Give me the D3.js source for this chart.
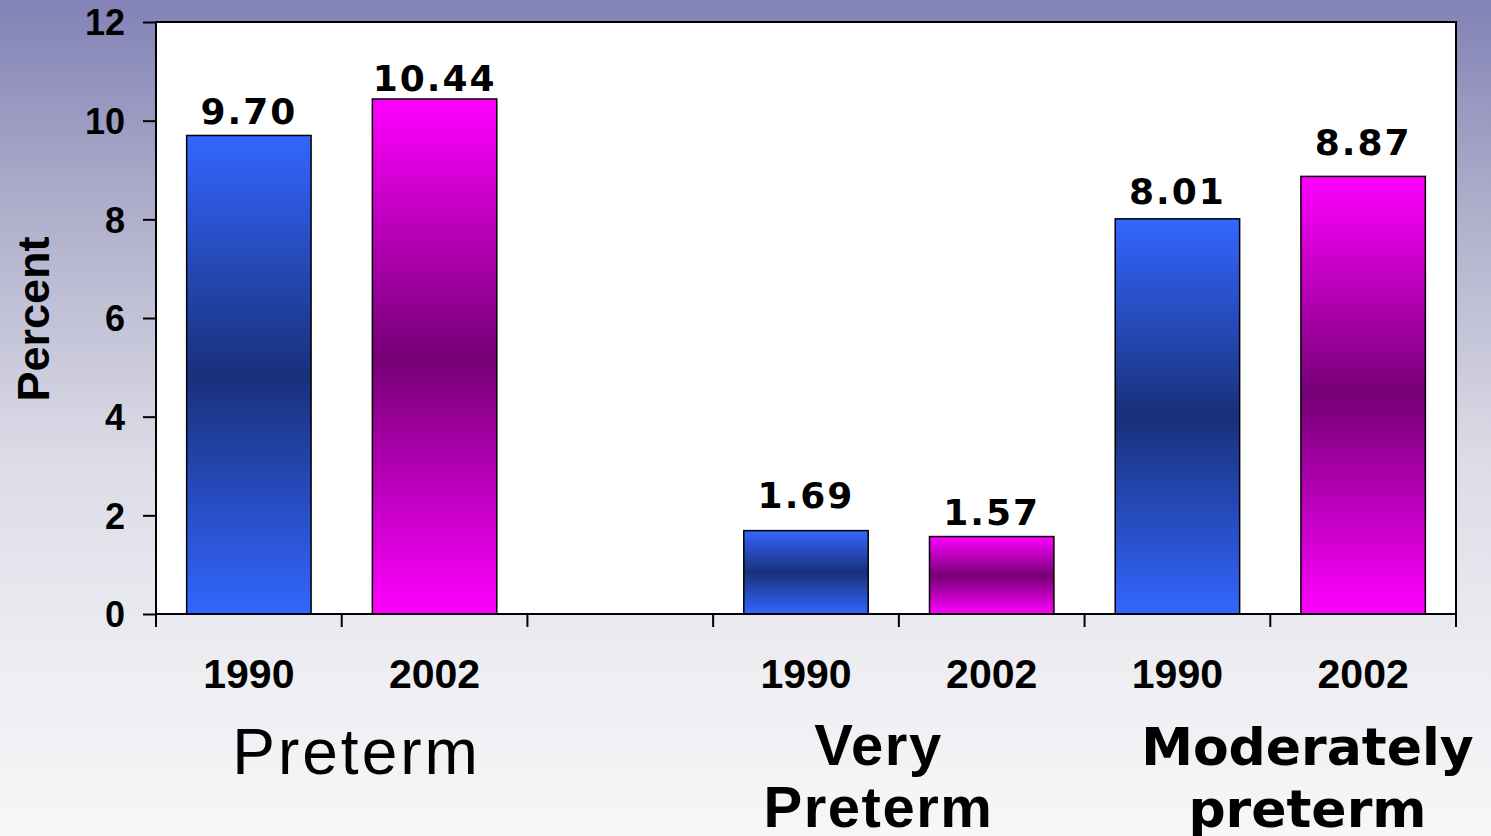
<!DOCTYPE html>
<meta charset="utf-8">
<style>
body { margin: 0; }
svg { display: block; }
.axis path, .axis line { stroke: #000; stroke-width: 2px; }
.axis text { font-family: "Liberation Sans", Arial, sans-serif; font-weight: bold; fill: #000; }
</style>
<body>
<script src="https://cdnjs.cloudflare.com/ajax/libs/d3/7.8.5/d3.min.js"></script>
<script>
// data
var groups = ["Preterm", "Very Preterm", "Moderately preterm"];
var years = ["1990", "2002"];
var rate1990 = [9.70, 1.69, 8.01];
var rate2002 = [10.44, 1.57, 8.87];
var yTicks = [0, 2, 4, 6, 8, 10, 12];
// empty slot kept after the first group, as in the original
var slots = ["Preterm|1990", "Preterm|2002", "gap", "Very Preterm|1990", "Very Preterm|2002", "Moderately preterm|1990", "Moderately preterm|2002"];
// where each group caption sits, in slot units from the left axis
var captionPos = [1.08, 3.89, 6.2];
// the value labels were nudged by hand in the original, gap above each bar (px)
var labelGap = [11, 8, 23, 12, 15, 21];

var W = 1491, H = 836;
var margin = {top: 22, right: 35, bottom: 222, left: 156},
    width = W - margin.left - margin.right,
    height = H - margin.top - margin.bottom;

var rows = [];
groups.forEach(function(g, i) {
  rows.push({key: g + "|1990", year: "1990", value: rate1990[i]});
  rows.push({key: g + "|2002", year: "2002", value: rate2002[i]});
});

var svg = d3.select("body").append("svg")
    .attr("width", W)
    .attr("height", H);

var defs = svg.append("defs");

var bg = defs.append("linearGradient").attr("id", "bg")
    .attr("x1", 0).attr("y1", 0).attr("x2", 0).attr("y2", 1);
[[0, "#8282b6"], [0.25, "#aeaecb"], [0.55, "#dcdce7"], [0.8, "#ededf2"], [1, "#f7f7f9"]].forEach(function(s) {
  bg.append("stop").attr("offset", s[0]).attr("stop-color", s[1]);
});

var colors = {
  "1990": ["#3366ff", "#19307a"],
  "2002": ["#ff00ff", "#760076"]
};
years.forEach(function(y) {
  var lg = defs.append("linearGradient").attr("id", "g" + y)
      .attr("x1", 0).attr("y1", 0).attr("x2", 0).attr("y2", 1);
  lg.append("stop").attr("offset", 0).attr("stop-color", colors[y][0]);
  lg.append("stop").attr("offset", 0.5).attr("stop-color", colors[y][1]);
  lg.append("stop").attr("offset", 1).attr("stop-color", colors[y][0]);
});

svg.append("rect")
    .attr("width", W)
    .attr("height", H)
    .attr("fill", "url(#bg)");

var g = svg.append("g").attr("transform", "translate(" + margin.left + "," + margin.top + ")");

var x = d3.scaleBand().domain(slots).range([0, width]).paddingInner(0.33).paddingOuter(0.165),
    y = d3.scaleLinear().domain([0, 12]).range([height, 0]);

g.append("rect")
    .attr("width", width)
    .attr("height", height)
    .attr("fill", "#fff")
    .attr("stroke", "#000")
    .attr("stroke-width", 2);

g.selectAll(".bar")
  .data(rows)
  .enter().append("rect")
    .attr("class", "bar")
    .attr("x", function(d) { return x(d.key); })
    .attr("y", function(d) { return y(d.value); })
    .attr("width", x.bandwidth())
    .attr("height", function(d) { return height - y(d.value); })
    .attr("fill", function(d) { return "url(#g" + d.year + ")"; })
    .attr("stroke", "#000")
    .attr("stroke-width", 1.5);

g.selectAll(".val")
  .data(rows)
  .enter().append("text")
    .attr("class", "val")
    .attr("x", function(d) { return x(d.key) + x.bandwidth() / 2; })
    .attr("y", function(d, i) { return y(d.value) - labelGap[i]; })
    .attr("text-anchor", "middle")
    .style("font-family", "'DejaVu Sans', Verdana, sans-serif")
    .style("font-weight", "bold")
    .style("font-size", "36px")
    .style("letter-spacing", "2px")
    .text(function(d) { return d.value.toFixed(2); });

// y axis
g.append("g")
    .attr("class", "axis")
    .call(d3.axisLeft(y).tickValues(yTicks).tickSize(13).tickSizeOuter(0).tickPadding(18))
    .call(function(a) { a.select(".domain").remove(); })
    .selectAll("text")
    .style("font-size", "36px")
    .attr("dy", "0.36em");

// x axis: ticks between slots
var step = x.step();
var xb = g.append("g")
    .attr("class", "axis")
    .attr("transform", "translate(0," + height + ")");
xb.append("line").attr("x1", 0).attr("x2", width);
xb.selectAll(".tk")
  .data(d3.range(slots.length + 1))
  .enter().append("line")
    .attr("x1", function(i) { return i * step; })
    .attr("x2", function(i) { return i * step; })
    .attr("y1", 0)
    .attr("y2", 13);
xb.selectAll(".yr")
  .data(rows)
  .enter().append("text")
    .attr("x", function(d) { return x(d.key) + x.bandwidth() / 2; })
    .attr("y", 74)
    .attr("text-anchor", "middle")
    .style("font-size", "41px")
    .text(function(d) { return d.year; });

// group captions
var capStyle = [
  {family: "'Liberation Sans', Arial, sans-serif", weight: "normal", size: 64, spacing: 3, lines: ["Preterm"], base: 160, lh: 0},
  {family: "'Liberation Sans', Arial, sans-serif", weight: "bold", size: 58, spacing: 1.5, lines: ["Very", "Preterm"], base: 151, lh: 62},
  {family: "'DejaVu Sans', Verdana, sans-serif", weight: "bold", size: 52, spacing: 0, lines: ["Moderately", "preterm"], base: 151, lh: 62}
];
groups.forEach(function(gr, i) {
  var s = capStyle[i];
  var t = xb.append("text")
      .attr("text-anchor", "middle")
      .style("font-family", s.family)
      .style("font-weight", s.weight)
      .style("font-size", s.size + "px")
      .style("letter-spacing", s.spacing + "px");
  s.lines.forEach(function(line, j) {
    t.append("tspan")
        .attr("x", captionPos[i] * step)
        .attr("y", s.base + j * s.lh)
        .text(line);
  });
});

// y title
svg.append("text")
    .attr("transform", "translate(49,319) rotate(-90)")
    .attr("text-anchor", "middle")
    .style("font-family", "'Liberation Sans', Arial, sans-serif")
    .style("font-weight", "bold")
    .style("font-size", "45px")
    .text("Percent");
</script>
